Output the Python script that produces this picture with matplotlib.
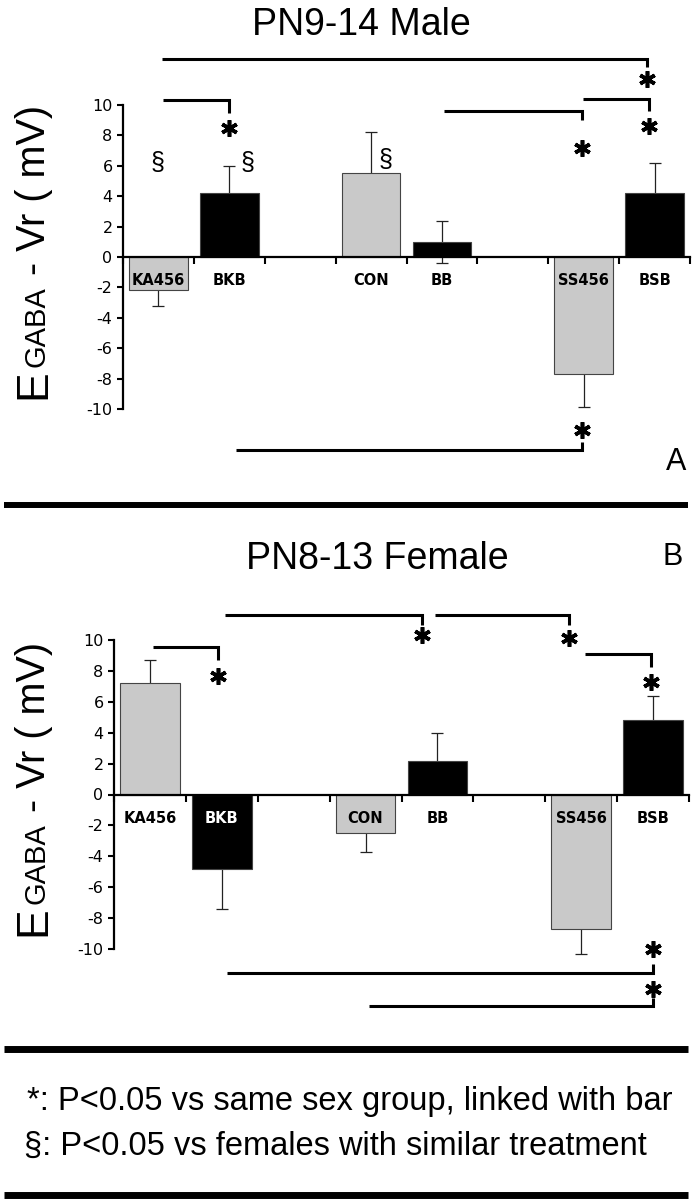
import matplotlib.pyplot as plt
from matplotlib.lines import Line2D
from matplotlib.transforms import IdentityTransform

plt.rcParams['axes.unicode_minus'] = False

# groups and values (mV)
groups = ['KA456', 'BKB', 'CON', 'BB', 'SS456', 'BSB']
bar_colors = ['#c9c9c9', '#000000', '#c9c9c9', '#000000', '#c9c9c9', '#000000']

male_mean = [-2.2, 4.2, 5.5, 1.0, -7.7, 4.2]
male_sem = [1.0, 1.8, 2.7, 1.4, 2.2, 2.0]
female_mean = [7.2, -4.8, -2.5, 2.2, -8.7, 4.8]
female_sem = [1.5, 2.6, 1.2, 1.8, 1.6, 1.6]

male_label_colors = ['k', 'k', 'k', 'k', 'k', 'k']
female_label_colors = ['k', 'w', 'k', 'k', 'k', 'k']

yticks = [-10, -8, -6, -4, -2, 0, 2, 4, 6, 8, 10]

# significance brackets: (x start, x end, line level, tip level, star level)
male_sig = [(0.05, 6.9, 13.0, 12.5, 11.7),
            (0.06, 0.99, 10.35, 9.5, 8.5),
            (4.03, 5.97, 9.6, 9.0, 7.2),
            (5.99, 6.92, 10.4, 9.6, 8.6),
            (1.1, 5.97, -12.7, -12.2, -11.4)]
female_sig = [(1.04, 3.78, 11.6, 11.0, 10.3),
              (3.96, 5.83, 11.6, 11.0, 10.1),
              (6.05, 6.97, 9.1, 8.25, 7.3),
              (0.04, 0.95, 9.55, 8.7, 7.7),
              (1.07, 7.0, -11.55, -11.0, -10.0),
              (3.05, 7.0, -13.7, -13.2, -12.6)]
# section marks (x, y) on male panel
male_section = [(-0.01, 6.2), (1.26, 6.2), (3.21, 6.4)]

legend_lines = ['*: P<0.05 vs same sex group, linked with bar',
                '\u00a7: P<0.05 vs females with similar treatment']

W, H = 693, 1199
pos = [i + i // 2 for i in range(len(groups))]

fig = plt.figure(figsize=(W / 100, H / 100), dpi=100)


def px_axes(left, right, top, bottom):
    return fig.add_axes([left / W, 1 - bottom / H, (right - left) / W, (bottom - top) / H])


def draw_panel(ax, means, sems, label_colors, sig, sections):
    ax.set_xlim(-0.5, 7.5)
    ax.set_ylim(-10, 10)
    eb = ax.errorbar(pos, means, yerr=sems, fmt='none', ecolor='#222222',
                     elinewidth=0.9, capsize=4.5, capthick=0.9, zorder=1)
    for art in eb.lines[1] + eb.lines[2]:
        art.set_clip_on(False)
    ax.bar(pos, means, width=0.83, color=bar_colors, edgecolor='#444444',
           linewidth=0.8, zorder=2)
    for spine in ['top', 'right']:
        ax.spines[spine].set_visible(False)
    ax.spines['bottom'].set_position(('data', 0))
    ax.spines['bottom'].set_linewidth(1.6)
    ax.spines['left'].set_linewidth(1.6)
    ax.set_xticks([k - 0.5 for k in range(9)])
    ax.set_xticklabels([])
    ax.tick_params(axis='x', direction='out', length=5, width=1.5)
    ax.set_yticks(yticks)
    ax.tick_params(axis='y', direction='out', length=4.5, width=1.5,
                   labelsize=11.5, pad=3)
    for p, g, c in zip(pos, groups, label_colors):
        ax.text(p, -1.55, g, ha='center', va='center', fontsize=10.5,
                fontweight='bold', family='DejaVu Sans', color=c, zorder=4)
    for x0, x1, yl, yt, ys in sig:
        ax.plot([x0, x1, x1], [yl, yl, yt], color='k', lw=2.2, clip_on=False,
                solid_capstyle='butt', solid_joinstyle='miter')
        ax.plot([x1], [ys], marker=(6, 2, 0), ms=12, mew=2.6, color='k',
                clip_on=False)
    for x, y in sections:
        ax.text(x, y, '\u00a7', fontsize=18, family='Liberation Sans',
                ha='center', va='center')


def ylabel_pieces(base_x, center_from_top):
    pieces = [('E', 32, 2), ('GABA', 21, 11), ('- Vr ( mV)', 28.5, 0)]
    renderer = fig.canvas.get_renderer()
    texts = []
    total = 0
    for s, size, gap in pieces:
        t = fig.text(0, 0, s, fontsize=size, family='Liberation Sans',
                     rotation=90, rotation_mode='anchor', ha='left',
                     va='baseline', transform=IdentityTransform())
        h = t.get_window_extent(renderer).height
        texts.append((t, h, gap))
        total += h + gap
    y = (H - center_from_top) - total / 2
    for t, h, gap in texts:
        t.set_position((base_x, y))
        y += h + gap


axA = px_axes(123, 690, 105, 409)
draw_panel(axA, male_mean, male_sem, male_label_colors, male_sig, male_section)
axB = px_axes(114, 689, 640, 949)
draw_panel(axB, female_mean, female_sem, female_label_colors, female_sig, [])

ylabel_pieces(45, 252)
ylabel_pieces(45, 789)

fig.text(361 / W, 1 - 35 / H, 'PN9-14 Male', fontsize=27, family='Liberation Sans',
         ha='center', va='baseline')
fig.text(377 / W, 1 - 569 / H, 'PN8-13 Female', fontsize=27, family='Liberation Sans',
         ha='center', va='baseline')
fig.text(676 / W, 1 - 470 / H, 'A', fontsize=22, family='Liberation Sans',
         ha='center', va='baseline')
fig.text(673 / W, 1 - 565 / H, 'B', fontsize=22, family='Liberation Sans',
         ha='center', va='baseline')

fig.text(27 / W, 1 - 1110 / H, legend_lines[0], fontsize=23.5,
         family='Liberation Sans', ha='left', va='baseline')
fig.text(24 / W, 1 - 1155 / H, legend_lines[1], fontsize=23.5,
         family='Liberation Sans', ha='left', va='baseline')

for yp, lw in [(505, 4.3), (1049, 5.0), (1195, 5.0)]:
    fig.add_artist(Line2D([4 / W, 688 / W], [1 - yp / H] * 2, color='k',
                          lw=lw, solid_capstyle='butt'))

fig.savefig('out.png', dpi=100)
